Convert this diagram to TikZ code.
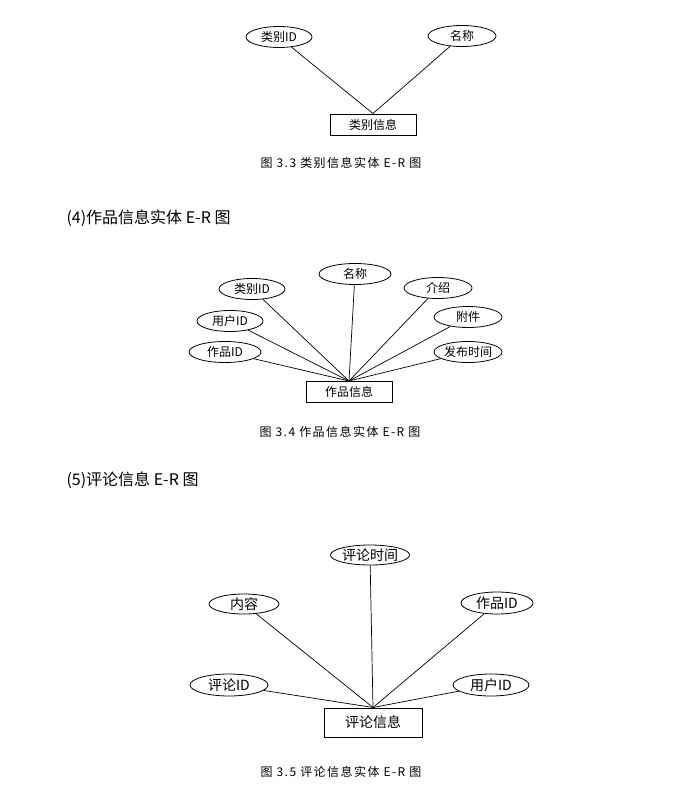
\documentclass[tikz,border=0pt]{standalone}
\usepackage{fontspec}
\setmainfont{Noto Sans CJK SC}
\newfontfamily\capfont[LetterSpace=12]{Noto Sans CJK SC}
\usetikzlibrary{shapes.geometric}

\begin{document}
\begin{tikzpicture}[x=1pt,y=-1pt,
    attr/.style={draw,ellipse,inner sep=0pt,minimum height=21pt,line width=0.8pt,
      font=\fontsize{12}{14}\selectfont},
    ent/.style={draw,line width=1pt,inner sep=0pt,minimum width=86pt,
      minimum height=21pt,font=\fontsize{12}{14}\selectfont},
    big/.style={font=\fontsize{14}{16}\selectfont},
    figcap/.style={font=\capfont\fontsize{12}{14}\selectfont},
    head/.style={anchor=west,font=\fontsize{16}{19}\selectfont},
    link/.style={line width=0.7pt}
  ]
    \useasboundingbox (0,0) rectangle (681,787);

    % figure 3.3
    \node[attr,minimum width=66pt] (lbid) at (279,37) {类别ID};
    \node[attr,minimum width=68pt] (lbmc) at (462,36) {名称};
    \node[ent] (lb) at (373,124.5) {类别信息};
    \foreach \a in {lbid,lbmc}\draw[link](\a)--(lb.north);
    \node[figcap] (cap33) at (341,163) {图 3.3 类别信息实体 E-R 图};

    \node[head] (h4) at (63,218) {(4)作品信息实体 E-R 图};

    % figure 3.4
    \node[attr,minimum width=72pt] (zpmc) at (355,274) {名称};
    \node[attr,minimum width=66pt] (zplb) at (252,289) {类别ID};
    \node[attr,minimum width=66pt] (zpyh) at (230,321) {用户ID};
    \node[attr,minimum width=72pt] (zpid) at (225,352) {作品ID};
    \node[attr,minimum width=68pt] (zpjs) at (438,288) {介绍};
    \node[attr,minimum width=68pt] (zpfj) at (468,317) {附件};
    \node[attr,minimum width=68pt] (zpsj) at (468,352) {发布时间};
    \node[ent] (zp) at (349,392) {作品信息};
    \foreach \a in {zpmc,zplb,zpyh,zpid,zpjs,zpfj,zpsj}\draw[link](\a)--(zp.north);
    \node[figcap] (cap34) at (340,432) {图 3.4 作品信息实体 E-R 图};

    \node[head] (h5) at (63,480) {(5)评论信息 E-R 图};

    % figure 3.5
    \node[attr,big,minimum width=78pt,minimum height=20pt] (plsj) at (370,555) {评论时间};
    \node[attr,big,minimum width=70pt,minimum height=20pt] (plnr) at (244,604) {内容};
    \node[attr,big,minimum width=72pt,minimum height=22pt] (plzp) at (497,603) {作品ID};
    \node[attr,big,minimum width=78pt,minimum height=22pt] (plid) at (229,685) {评论ID};
    \node[attr,big,minimum width=76pt,minimum height=22pt] (plyh) at (491,685) {用户ID};
    \node[ent,big,minimum width=98pt,minimum height=29pt] (pl) at (373,722.5) {评论信息};
    \foreach \a in {plsj,plnr,plzp,plid,plyh}\draw[link](\a)--(pl.north);
    \node[figcap] (cap35) at (341,772) {图 3.5 评论信息实体 E-R 图};
  \end{tikzpicture}
\end{document}
